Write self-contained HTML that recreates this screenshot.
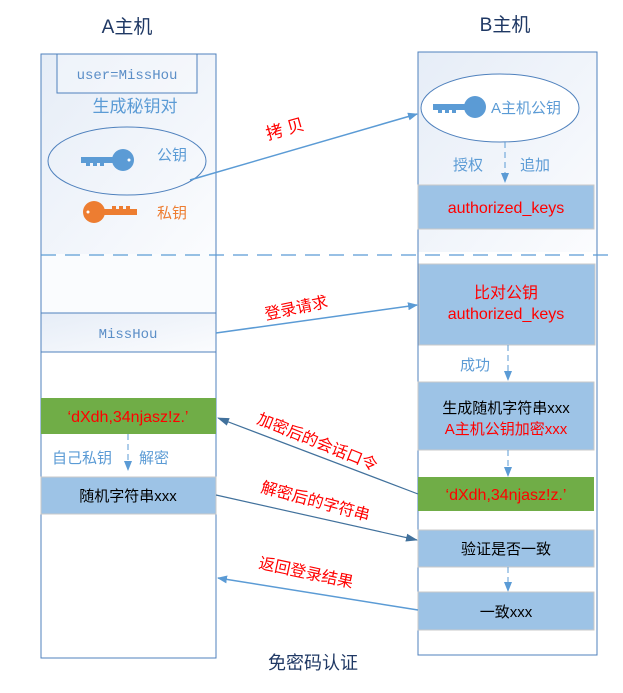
<!DOCTYPE html>
<html><head><meta charset="utf-8"><style>
body{margin:0;background:#fff;}
svg text{font-family:"Liberation Sans","Noto Sans CJK SC",sans-serif;}
svg text.mono{font-family:"Liberation Mono","Noto Sans CJK SC",monospace;}
</style></head><body>
<svg width="623" height="688" viewBox="0 0 623 688" xmlns="http://www.w3.org/2000/svg">
<defs>
<linearGradient id="g" x1="0" y1="0" x2="1" y2="1">
<stop offset="0" stop-color="#e6edf7"/><stop offset="1" stop-color="#fbfcfe"/></linearGradient>
<marker id="ar" markerWidth="10" markerHeight="8" refX="9" refY="4" orient="auto" markerUnits="userSpaceOnUse">
<path d="M0,0 L10,4 L0,8 z" fill="#5b9bd5"/></marker>
<marker id="ad" markerWidth="12" markerHeight="8" refX="11" refY="4" orient="auto" markerUnits="userSpaceOnUse">
<path d="M0,0 L12,4 L0,8 z" fill="#41719c"/></marker>
</defs>
<text x="127" y="33" font-size="19" fill="#1f3864" text-anchor="middle">A主机</text>
<text x="505" y="31" font-size="19" fill="#1f3864" text-anchor="middle">B主机</text>
<rect x="41" y="54" width="175" height="200" fill="url(#g)"/>
<rect x="41" y="254" width="175" height="59" fill="#fafcfe"/>
<rect x="41" y="313" width="175" height="39" fill="url(#g)"/>
<rect x="41" y="54" width="175" height="604" fill="none" stroke="#4f81bd" stroke-width="1"/>
<line x1="41" y1="313" x2="216" y2="313" stroke="#4f81bd"/>
<line x1="41" y1="352" x2="216" y2="352" stroke="#4f81bd"/>
<rect x="57" y="54" width="140" height="39" fill="#fff" stroke="#4f81bd" fill-opacity="0.3"/>
<text class="mono" x="127" y="79" font-size="14" fill="#5b8ec7" text-anchor="middle">user=MissHou</text>
<text x="135" y="112" font-size="17" fill="#5b9bd5" text-anchor="middle">生成秘钥对</text>
<ellipse cx="127" cy="161" rx="79" ry="34" fill="none" stroke="#4f81bd"/>
<g fill="#5b9bd5">
<circle cx="123" cy="160" r="11"/><rect x="81" y="157" width="35" height="6"/>
<rect x="86" y="162" width="4" height="4"/><rect x="93" y="162" width="4" height="4"/><rect x="100" y="162" width="4" height="4"/>
</g>
<circle cx="129" cy="160" r="1.5" fill="#fff"/>
<text x="157" y="160" font-size="15" fill="#5b9bd5">公钥</text>
<g fill="#ed7d31">
<circle cx="94" cy="212" r="11"/><rect x="100" y="209" width="37" height="6"/>
<rect x="112" y="206" width="4" height="4"/><rect x="119" y="206" width="4" height="4"/><rect x="126" y="206" width="4" height="4"/>
</g>
<circle cx="88" cy="212" r="1.5" fill="#fff"/>
<text x="157" y="218" font-size="15" fill="#ed7d31">私钥</text>
<text class="mono" x="128" y="338" font-size="14" fill="#5b8ec7" text-anchor="middle">MissHou</text>
<rect x="41" y="398" width="175" height="36" fill="#70ad47"/>
<text x="128" y="422" font-size="16" fill="#ff0000" text-anchor="middle">‘dXdh,34njasz!z.’</text>
<line x1="128" y1="434" x2="128" y2="470" stroke="#5b9bd5" stroke-dasharray="6,4" marker-end="url(#ar)"/>
<text x="52" y="463" font-size="15" fill="#5b9bd5">自己私钥</text>
<text x="139" y="463" font-size="15" fill="#5b9bd5">解密</text>
<rect x="41" y="477" width="175" height="37" fill="#9dc3e6" stroke="#c9c9c9"/>
<text x="128" y="501" font-size="15" fill="#000" text-anchor="middle">随机字符串xxx</text>
<rect x="418" y="52" width="179" height="603" fill="#fff"/>
<rect x="418" y="52" width="179" height="200" fill="url(#g)"/>
<rect x="418" y="52" width="179" height="603" fill="none" stroke="#4f81bd"/>
<ellipse cx="500" cy="108" rx="79" ry="34" fill="#fff" stroke="#4f81bd"/>
<g fill="#5b9bd5">
<circle cx="475" cy="107" r="11"/><rect x="433" y="104" width="35" height="6"/>
<rect x="438" y="109" width="4" height="4"/><rect x="445" y="109" width="4" height="4"/><rect x="452" y="109" width="4" height="4"/>
</g>
<text x="491" y="113" font-size="15" fill="#5b9bd5">A主机公钥</text>
<line x1="505" y1="142" x2="505" y2="182" stroke="#5b9bd5" stroke-dasharray="6,4" marker-end="url(#ar)"/>
<text x="453" y="170" font-size="15" fill="#5b9bd5">授权</text>
<text x="520" y="170" font-size="15" fill="#5b9bd5">追加</text>
<rect x="418" y="185" width="176" height="44" fill="#9dc3e6" stroke="#c9c9c9"/>
<text x="506" y="213" font-size="16" fill="#ff0000" text-anchor="middle">authorized_keys</text>
<line x1="41" y1="255" x2="616" y2="255" stroke="#5b9bd5" stroke-width="1.2" stroke-dasharray="15,9"/>
<rect x="419" y="264" width="176" height="81" fill="#9dc3e6" stroke="#c9c9c9"/>
<text x="506" y="298" font-size="16" fill="#ff0000" text-anchor="middle">比对公钥</text>
<text x="506" y="319" font-size="16" fill="#ff0000" text-anchor="middle">authorized_keys</text>
<line x1="508" y1="345" x2="508" y2="380" stroke="#5b9bd5" stroke-dasharray="6,4" marker-end="url(#ar)"/>
<text x="460" y="370" font-size="15" fill="#5b9bd5">成功</text>
<rect x="418" y="382" width="176" height="68" fill="#9dc3e6" stroke="#c9c9c9"/>
<text x="506" y="413" font-size="15" fill="#000" text-anchor="middle">生成随机字符串xxx</text>
<text x="506" y="434" font-size="15" fill="#ff0000" text-anchor="middle">A主机公钥加密xxx</text>
<line x1="508" y1="450" x2="508" y2="476" stroke="#5b9bd5" stroke-dasharray="6,4" marker-end="url(#ar)"/>
<rect x="418" y="477" width="176" height="34" fill="#70ad47"/>
<text x="506" y="500" font-size="16" fill="#ff0000" text-anchor="middle">‘dXdh,34njasz!z.’</text>
<rect x="418" y="530" width="176" height="37" fill="#9dc3e6" stroke="#c9c9c9"/>
<text x="506" y="554" font-size="15" fill="#000" text-anchor="middle">验证是否一致</text>
<line x1="508" y1="567" x2="508" y2="591" stroke="#5b9bd5" stroke-dasharray="6,4" marker-end="url(#ar)"/>
<rect x="418" y="592" width="176" height="38" fill="#9dc3e6" stroke="#c9c9c9"/>
<text x="506" y="617" font-size="15" fill="#000" text-anchor="middle">一致xxx</text>
<line x1="190" y1="180" x2="417" y2="114" stroke="#5b9bd5" stroke-width="1.5" marker-end="url(#ar)"/>
<text x="268" y="140" font-size="17" fill="#ff0000" transform="rotate(-16 268 140)">拷 贝</text>
<line x1="216" y1="333" x2="417" y2="305" stroke="#5b9bd5" stroke-width="1.5" marker-end="url(#ar)"/>
<text x="266" y="320" font-size="16" fill="#ff0000" transform="rotate(-12 266 320)">登录请求</text>
<line x1="418" y1="494" x2="218" y2="418" stroke="#41719c" stroke-width="1.2" marker-end="url(#ad)"/>
<text x="256" y="423" font-size="16" fill="#ff0000" transform="rotate(22 256 423)">加密后的会话口令</text>
<line x1="216" y1="495" x2="417" y2="540" stroke="#41719c" stroke-width="1.2" marker-end="url(#ad)"/>
<text x="260" y="492" font-size="16" fill="#ff0000" transform="rotate(15 260 492)">解密后的字符串</text>
<line x1="418" y1="610" x2="218" y2="578" stroke="#5b9bd5" stroke-width="1.5" marker-end="url(#ar)"/>
<text x="258" y="568" font-size="16" fill="#ff0000" transform="rotate(12 258 568)">返回登录结果</text>
<text x="313" y="669" font-size="18" fill="#1f3864" text-anchor="middle">免密码认证</text>
</svg>
</body></html>
